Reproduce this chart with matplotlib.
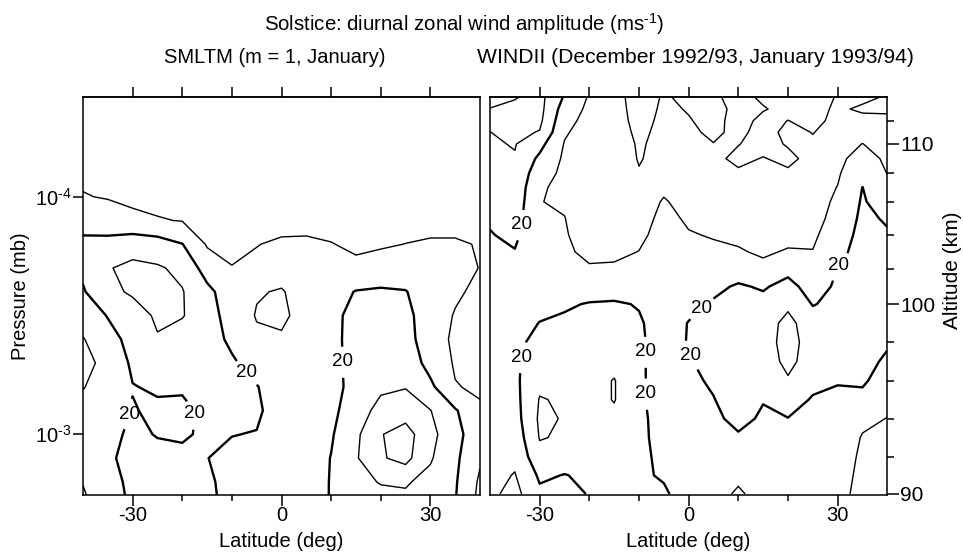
import numpy as np
import matplotlib
matplotlib.use("Agg")
import matplotlib.pyplot as plt
from matplotlib.ticker import FixedLocator, FixedFormatter, NullLocator, NullFormatter

plt.rcParams['font.family'] = ['Liberation Sans', 'DejaVu Sans']
plt.rcParams['mathtext.fontset'] = 'custom'
plt.rcParams['mathtext.rm'] = 'Liberation Sans'
plt.rcParams['mathtext.it'] = 'Liberation Sans:italic'
plt.rcParams['axes.unicode_minus'] = False
plt.rcParams['axes.linewidth'] = 1.1

# --- data ----------------------------------------------------------------
lat = np.arange(-40, 41, 5)

# SMLTM: rows are log10 pressure (mb), columns are latitudes
smltm_logp = [-4.45, -4.2, -4.0, -3.9, -3.8, -3.7, -3.6, -3.5, -3.4, -3.3,
              -3.2, -3.1, -3.0, -2.9, -2.8, -2.7]
smltm_amp = [
    [6, 6, 5, 5, 5, 4, 4, 4, 4, 4, 4, 4, 4, 4, 4, 4, 4],
    [8, 7.5, 7, 6.5, 6, 5, 5, 5, 5, 5, 5, 5, 5, 5, 5, 5, 5],
    [10.3, 9.6, 9, 8, 7, 5.5, 5, 5.5, 6, 6, 5.5, 5.5, 6, 6, 6.5, 6.5, 6.5],
    [17, 13.6, 11.2, 10.5, 9.7, 7, 6, 7.5, 8, 8, 7.5, 6.5, 7, 7.5, 7.5, 7.5, 8],
    [22, 24, 27.5, 25, 20.3, 9.2, 8, 9.8, 11, 11.2, 10.3, 8.5, 9.2, 10.1, 11, 11, 9.5],
    [22, 29.6, 31.5, 31, 28, 15.5, 10.3, 11.5, 12.5, 13.5, 13, 12, 13.5, 14, 13.5, 12.5, 9.8],
    [19, 28.5, 30.8, 33, 30.5, 23, 13.5, 10.5, 9.5, 13, 15.5, 20.5, 21.5, 20.5, 14, 11, 8.5],
    [14, 20.5, 27, 31, 30.5, 25, 15, 9.5, 8.5, 13, 16.5, 24, 24, 23, 14, 9.5, 7],
    [9.5, 16, 23.5, 29.5, 26, 24.5, 18, 11.5, 11, 13.5, 16.5, 24.5, 25, 24, 14, 8.5, 6],
    [7, 13, 21.5, 24, 23, 23.5, 21.5, 15.5, 13, 14, 16.5, 24, 26, 25.5, 17, 9, 6.5],
    [9.7, 13, 19.7, 21, 21, 23, 24, 20.5, 14, 14, 16, 24, 28.5, 29.5, 22, 10.5, 8.5],
    [12, 15, 20.5, 18.5, 18, 22, 24, 22, 14, 13.5, 17.5, 25.5, 33, 36, 30.3, 21, 11.5],
    [13, 17, 22, 19.5, 18.5, 22, 20.3, 19.5, 14, 13.5, 19, 28, 39.5, 44, 33, 23, 14],
    [12, 18.5, 23, 23, 23, 20.2, 17, 15, 13.5, 14, 20.3, 29, 39, 43, 31, 22, 11],
    [10.3, 17, 22, 23, 23, 21.5, 17, 14, 13.5, 15, 20.5, 27.5, 30.5, 31, 27, 21, 8.5],
    [8, 15, 21.5, 22, 22, 22, 17.5, 14, 13, 15.5, 20.5, 25, 26, 27, 25, 20.2, 7],
]

# WINDII: rows are altitudes (km), columns are latitudes
windii_alt = np.arange(90, 115, 1)
windii_cols = {
    -40: [12, 13, 14, 15, 15, 15, 15, 15, 15, 15, 16, 16, 17, 18, 19.5, 21, 23, 25, 26, 27.5, 29, 29.9, 31.5, 30.2, 28],
    -35: [7, 9.5, 12, 14, 16, 17, 18, 18.5, 18, 17, 16, 16, 17, 19.5, 22, 24, 26, 27, 28, 29.3, 30.5, 32, 33, 32, 29.5],
    -30: [18, 21.5, 27, 30.5, 31.5, 30.5, 28, 25, 22.5, 20.2, 18, 16, 14, 12.5, 11.5, 11, 10.2, 11, 14, 18, 23, 29.5, 32, 33, 33],
    -25: [17, 19.7, 24, 29, 29.5, 29, 26, 24, 23, 21.5, 19, 16, 13, 11.5, 10.8, 10.2, 9, 8, 8, 8.5, 9.5, 11, 13, 15.5, 19],
    -20: [20.5, 21.5, 23, 24, 25, 26, 26, 25, 24, 22.5, 20.5, 16, 11, 8, 6, 5, 5, 5, 5, 5, 5.5, 6, 7, 8, 9],
    -15: [23, 24, 25, 26, 27.5, 30.5, 30.5, 27, 25.5, 23.5, 21, 16, 11.5, 8, 6, 5, 5, 5, 5, 5, 5, 5.5, 6, 6, 6],
    -10: [21, 21.5, 22, 22, 22, 21.5, 21.5, 21.5, 21.5, 21, 19.5, 16, 13, 10.2, 8, 7, 7, 8, 9.5, 10.5, 11, 12, 13, 14, 15],
    -5: [21.5, 19, 18, 17, 16.5, 16, 16, 16, 16, 16, 16, 15.5, 15, 14.5, 13.5, 12, 10.5, 9, 8, 7.5, 7.5, 7.5, 8, 8.5, 9],
    0: [15, 16, 16.5, 17, 17.5, 18, 18.5, 19.5, 20.5, 20.3, 18, 16, 14, 12, 10.5, 9, 8, 7.5, 7.5, 7.5, 8, 8.5, 9.5, 10.5, 12],
    5: [14, 15, 16, 17, 18.5, 19.7, 21, 22, 22.5, 22, 21, 18, 14.5, 11.5, 9.5, 8, 7, 7, 7.5, 8.5, 9.8, 11.5, 12.5, 13, 11],
    10: [8.5, 12, 15, 19, 22, 24, 25, 25, 25, 24, 23, 21, 16, 11, 8, 6, 6, 7, 9, 11.5, 9.8, 8, 7, 7.5, 8],
    15: [14, 15, 16, 17.5, 19, 20.3, 22, 25, 26.5, 26, 23, 19, 13, 8.5, 6.5, 5.5, 5.5, 6, 7.5, 9.7, 12, 13, 12, 9.5, 11],
    20: [14, 15, 16.5, 18, 19.8, 23.5, 29, 32.5, 33, 32.5, 28.5, 23, 17.5, 11, 7, 5.5, 5, 6, 9, 11.5, 9.5, 8, 9.9, 12, 13],
    25: [14, 15, 16, 17, 18, 19.3, 22, 25.5, 26.5, 25, 19.5, 16, 13, 10.3, 8.5, 7, 6.5, 6.5, 7, 8, 9, 10.2, 12, 13, 13],
    30: [14, 15, 16, 17, 18, 19, 20.3, 22, 23, 23, 22.5, 21.5, 20.2, 17.5, 15, 13, 11.5, 10.2, 9, 8, 7.5, 7.5, 8, 8.5, 9.5],
    35: [6, 7, 8, 9.3, 12, 17, 21.5, 23, 24, 24, 24, 24, 24, 23.5, 23, 22, 21, 20.1, 17, 13.5, 10.1, 8, 7, 11.5, 8],
    40: [5, 6, 7, 8.5, 9.8, 12, 15, 18.5, 21, 22, 22.5, 22.5, 22.5, 22, 21, 19, 15, 12, 9.8, 8.5, 7.5, 7.5, 8.5, 11, 11],
}
windii_amp = np.array([windii_cols[k] for k in lat]).T

# altitude scale of the right axis and the log10 pressure (mb) at each mark
alt_marks = [90, 92, 94, 96, 98, 100, 102, 104, 106, 108, 110, 112, 114]
alt_marks_logp = [-2.749, -2.906, -3.066, -3.226, -3.387, -3.548, -3.696,
                  -3.839, -3.979, -4.099, -4.222, -4.320, -4.418]

thin_levels = [10, 30, 40]
label_level = [20]

smltm_labels = [(-7.1, -3.257), (12.7, -3.306), (-32.1, -3.095), (-18.9, -3.088)]
windii_labels = [(-33.7, 104.6), (30.1, 102.2), (2.9, 99.7), (0.9, 97.4),
                 (-33.4, 97.2), (-9.2, 97.5), (-10.2, 95.3)]


def alt_to_p(alt):
    return 10 ** np.interp(alt, alt_marks, alt_marks_logp)


# --- figure -----------------------------------------------------------------
fig = plt.figure(figsize=(9.63, 5.53), dpi=100)
W, H = 963, 553
ax1 = fig.add_axes([83 / W, (H - 495) / H, 397 / W, 398.3 / H])
ax2 = fig.add_axes([490 / W, (H - 495) / H, 397.3 / W, 398.3 / H])

p_smltm = 10 ** np.array(smltm_logp)
p_windii = alt_to_p(windii_alt)
amp1 = np.array(smltm_amp)

ax1.contour(lat, p_smltm, amp1, levels=thin_levels, colors='black', linewidths=1.0)
cs1 = ax1.contour(lat, p_smltm, amp1, levels=label_level, colors='black', linewidths=1.7)
ax2.contour(lat, p_windii, windii_amp, levels=thin_levels, colors='black', linewidths=1.0)
cs2 = ax2.contour(lat, p_windii, windii_amp, levels=label_level, colors='black', linewidths=1.7)

ymin, ymax = 10 ** -4.421, 10 ** -2.7445
for ax in (ax1, ax2):
    ax.set_yscale('log')
    ax.set_ylim(ymax, ymin)
    ax.set_xlim(-40, 40)
    ax.xaxis.set_major_locator(FixedLocator([-30, 0, 30]))
    ax.xaxis.set_minor_locator(FixedLocator([-20, -10, 10, 20]))
    ax.tick_params(axis='x', which='major', direction='out', length=8, width=1.1,
                   labelsize=14.5, pad=0, top=False)
    ax.tick_params(axis='x', which='minor', direction='out', length=4.5, width=1.1,
                   top=False)
    ax.set_xlabel('Latitude (deg)', fontsize=14.5, labelpad=5)
    top = ax.secondary_xaxis('top')
    top.set_xticks(np.arange(-30, 31, 10))
    top.tick_params(direction='out', length=7, width=1.1, labeltop=False)
    top.xaxis.set_minor_locator(NullLocator())

# left panel: pressure axis
ax1.yaxis.set_major_locator(FixedLocator([1e-4, 1e-3]))
ax1.yaxis.set_major_formatter(FixedFormatter([r'10$^{\text{-}4}$', r'10$^{\text{-}3}$']))
ax1.yaxis.set_minor_locator(NullLocator())
ax1.yaxis.set_minor_formatter(NullFormatter())
ax1.tick_params(axis='y', direction='out', length=7, width=1.1, labelsize=14.5,
                pad=1, right=False)
ax1.set_ylabel('Pressure (mb)', fontsize=14.5, labelpad=4)

# right panel: altitude axis
major_alt = [90, 100, 110]
minor_alt = [a for a in alt_marks if a not in major_alt and a < 114]
ax2.yaxis.set_major_locator(FixedLocator(alt_to_p(major_alt)))
ax2.yaxis.set_major_formatter(FixedFormatter([str(a) for a in major_alt]))
ax2.yaxis.set_minor_locator(FixedLocator(alt_to_p(minor_alt)))
ax2.yaxis.set_minor_formatter(NullFormatter())
ax2.yaxis.tick_right()
ax2.yaxis.set_label_position('right')
ax2.tick_params(axis='y', which='major', direction='out', length=8.5, width=1.1,
                labelsize=15, pad=1, left=False, right=True)
ax2.tick_params(axis='y', which='minor', direction='out', length=5, width=1.1,
                left=False, right=True)
ax2.set_ylabel('Altitude (km)', fontsize=15)
ax2.yaxis.set_label_coords(1.14, 0.565)

# contour labels on the 20 m/s lines
lab1 = ax1.clabel(cs1, inline=True, fmt='%d', fontsize=13.5,
                  manual=[(x, 10 ** y) for x, y in smltm_labels])
lab2 = ax2.clabel(cs2, inline=True, fmt='%d', fontsize=13.5,
                  manual=[(x, alt_to_p(a)) for x, a in windii_labels])
for t in list(lab1) + list(lab2):
    t.set_rotation(0)

fig.text(464.5 / W, 1 - 30.7 / H, r'Solstice: diurnal zonal wind amplitude (ms$^{\text{-}1}$)',
         ha='center', va='baseline', fontsize=14.7)
fig.text(275 / W, 1 - 63.3 / H, 'SMLTM (m = 1, January)',
         ha='center', va='baseline', fontsize=14.5)
fig.text(695 / W, 1 - 63.3 / H, 'WINDII (December 1992/93, January 1993/94)',
         ha='center', va='baseline', fontsize=15.2)

fig.savefig('out.png', dpi=100)
